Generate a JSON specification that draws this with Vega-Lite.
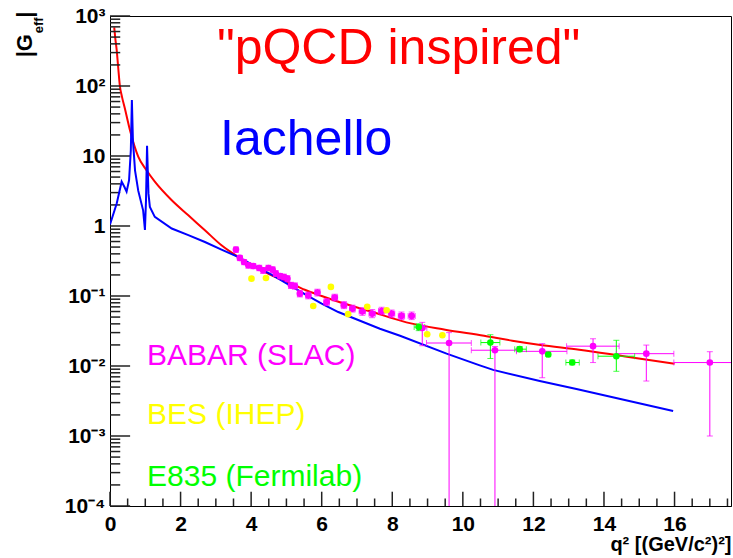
{
  "$schema": "https://vega.github.io/schema/vega-lite/v6.json",
  "width": 621,
  "height": 490,
  "autosize": "none",
  "padding": {"left": 110, "top": 16, "right": 2, "bottom": 52},
  "background": "white",
  "config": {"view": {"stroke": "black", "strokeWidth": 1}, "font": "Liberation Sans"},
  "datasets": {
    "pqcd": [
      {"q2": 0.12, "G": 690}, {"q2": 0.15, "G": 480}, {"q2": 0.19, "G": 326}, {"q2": 0.23, "G": 190}, {"q2": 0.28, "G": 100}, {"q2": 0.34, "G": 70}, {"q2": 0.42, "G": 48},
      {"q2": 0.57, "G": 23}, {"q2": 0.8, "G": 9.8}, {"q2": 1.04, "G": 6.2}, {"q2": 1.27, "G": 4.3},
      {"q2": 1.75, "G": 2.33}, {"q2": 2.22, "G": 1.42}, {"q2": 2.69, "G": 0.87}, {"q2": 3.16, "G": 0.53},
      {"q2": 3.64, "G": 0.36}, {"q2": 4.11, "G": 0.26}, {"q2": 4.58, "G": 0.198}, {"q2": 5.05, "G": 0.158},
      {"q2": 5.52, "G": 0.123}, {"q2": 6.0, "G": 0.1}, {"q2": 6.56, "G": 0.08}, {"q2": 7.4, "G": 0.06},
      {"q2": 8.4, "G": 0.042}, {"q2": 9.5, "G": 0.033}, {"q2": 10.6, "G": 0.027}, {"q2": 11.4, "G": 0.023},
      {"q2": 12.2, "G": 0.02}, {"q2": 13.3, "G": 0.0171}, {"q2": 14.6, "G": 0.0137}, {"q2": 16.0, "G": 0.0108}
    ],
    "iachello": [
      {"q2": 0.0, "G": 1.05}, {"q2": 0.19, "G": 2.1}, {"q2": 0.33, "G": 4.3}, {"q2": 0.41, "G": 3.6},
      {"q2": 0.47, "G": 3.1}, {"q2": 0.54, "G": 4.5}, {"q2": 0.59, "G": 12}, {"q2": 0.62, "G": 63},
      {"q2": 0.65, "G": 16.6}, {"q2": 0.71, "G": 6.2}, {"q2": 0.8, "G": 3.2}, {"q2": 0.94, "G": 1.66},
      {"q2": 0.99, "G": 0.88}, {"q2": 1.02, "G": 2.3}, {"q2": 1.05, "G": 14}, {"q2": 1.09, "G": 2.9},
      {"q2": 1.13, "G": 1.87}, {"q2": 1.27, "G": 1.35}, {"q2": 1.75, "G": 0.92}, {"q2": 2.22, "G": 0.74},
      {"q2": 2.69, "G": 0.59}, {"q2": 3.16, "G": 0.46}, {"q2": 3.64, "G": 0.36}, {"q2": 4.11, "G": 0.268},
      {"q2": 4.58, "G": 0.202}, {"q2": 5.05, "G": 0.147}, {"q2": 5.52, "G": 0.106}, {"q2": 6.0, "G": 0.078},
      {"q2": 6.47, "G": 0.059}, {"q2": 7.65, "G": 0.034}, {"q2": 8.22, "G": 0.027}, {"q2": 9.54, "G": 0.015},
      {"q2": 10.48, "G": 0.0102}, {"q2": 10.86, "G": 0.0088}, {"q2": 12.18, "G": 0.0061}, {"q2": 13.22, "G": 0.0047},
      {"q2": 15.96, "G": 0.00228}
    ],
    "points": [
      {"exp": "BABAR", "q2": 3.57, "G": 0.46, "q2lo": 3.52, "q2hi": 3.62, "Glo": 0.42, "Ghi": 0.5},
      {"exp": "BABAR", "q2": 3.68, "G": 0.35, "q2lo": 3.63, "q2hi": 3.73, "Glo": 0.32, "Ghi": 0.38},
      {"exp": "BABAR", "q2": 3.8, "G": 0.306, "q2lo": 3.75, "q2hi": 3.85, "Glo": 0.28, "Ghi": 0.33},
      {"exp": "BABAR", "q2": 3.92, "G": 0.275, "q2lo": 3.87, "q2hi": 3.97, "Glo": 0.25, "Ghi": 0.3},
      {"exp": "BABAR", "q2": 4.06, "G": 0.268, "q2lo": 4.01, "q2hi": 4.11, "Glo": 0.245, "Ghi": 0.29},
      {"exp": "BABAR", "q2": 4.23, "G": 0.251, "q2lo": 4.18, "q2hi": 4.28, "Glo": 0.23, "Ghi": 0.275},
      {"exp": "BABAR", "q2": 4.34, "G": 0.233, "q2lo": 4.29, "q2hi": 4.39, "Glo": 0.21, "Ghi": 0.255},
      {"exp": "BABAR", "q2": 4.49, "G": 0.251, "q2lo": 4.44, "q2hi": 4.54, "Glo": 0.23, "Ghi": 0.275},
      {"exp": "BABAR", "q2": 4.61, "G": 0.238, "q2lo": 4.56, "q2hi": 4.66, "Glo": 0.215, "Ghi": 0.26},
      {"exp": "BABAR", "q2": 4.7, "G": 0.209, "q2lo": 4.65, "q2hi": 4.75, "Glo": 0.19, "Ghi": 0.23},
      {"exp": "BABAR", "q2": 4.82, "G": 0.193, "q2lo": 4.77, "q2hi": 4.87, "Glo": 0.175, "Ghi": 0.21},
      {"exp": "BABAR", "q2": 4.93, "G": 0.187, "q2lo": 4.88, "q2hi": 4.98, "Glo": 0.17, "Ghi": 0.205},
      {"exp": "BABAR", "q2": 5.03, "G": 0.177, "q2lo": 4.98, "q2hi": 5.08, "Glo": 0.16, "Ghi": 0.195},
      {"exp": "BABAR", "q2": 5.13, "G": 0.142, "q2lo": 5.07, "q2hi": 5.19, "Glo": 0.128, "Ghi": 0.157},
      {"exp": "BABAR", "q2": 5.24, "G": 0.139, "q2lo": 5.18, "q2hi": 5.3, "Glo": 0.125, "Ghi": 0.154},
      {"exp": "BABAR", "q2": 5.38, "G": 0.108, "q2lo": 5.32, "q2hi": 5.44, "Glo": 0.097, "Ghi": 0.12},
      {"exp": "BABAR", "q2": 5.62, "G": 0.102, "q2lo": 5.55, "q2hi": 5.69, "Glo": 0.091, "Ghi": 0.114},
      {"exp": "BABAR", "q2": 5.88, "G": 0.112, "q2lo": 5.81, "q2hi": 5.95, "Glo": 0.1, "Ghi": 0.125},
      {"exp": "BABAR", "q2": 6.14, "G": 0.082, "q2lo": 6.06, "q2hi": 6.22, "Glo": 0.073, "Ghi": 0.092},
      {"exp": "BABAR", "q2": 6.37, "G": 0.095, "q2lo": 6.29, "q2hi": 6.45, "Glo": 0.085, "Ghi": 0.106},
      {"exp": "BABAR", "q2": 6.63, "G": 0.074, "q2lo": 6.55, "q2hi": 6.71, "Glo": 0.066, "Ghi": 0.083},
      {"exp": "BABAR", "q2": 6.87, "G": 0.066, "q2lo": 6.79, "q2hi": 6.95, "Glo": 0.059, "Ghi": 0.074},
      {"exp": "BABAR", "q2": 7.15, "G": 0.06, "q2lo": 7.06, "q2hi": 7.24, "Glo": 0.053, "Ghi": 0.068},
      {"exp": "BABAR", "q2": 7.43, "G": 0.056, "q2lo": 7.34, "q2hi": 7.52, "Glo": 0.049, "Ghi": 0.064},
      {"exp": "BABAR", "q2": 7.7, "G": 0.061, "q2lo": 7.61, "q2hi": 7.79, "Glo": 0.054, "Ghi": 0.069},
      {"exp": "BABAR", "q2": 7.98, "G": 0.056, "q2lo": 7.89, "q2hi": 8.07, "Glo": 0.049, "Ghi": 0.063},
      {"exp": "BABAR", "q2": 8.26, "G": 0.052, "q2lo": 8.17, "q2hi": 8.35, "Glo": 0.046, "Ghi": 0.059},
      {"exp": "BABAR", "q2": 8.55, "G": 0.052, "q2lo": 8.45, "q2hi": 8.65, "Glo": 0.046, "Ghi": 0.059},
      {"exp": "BABAR", "q2": 8.85, "G": 0.035, "q2lo": 8.72, "q2hi": 8.98, "Glo": 0.0195, "Ghi": 0.042},
      {"exp": "BABAR", "q2": 9.61, "G": 0.0213, "q2lo": 8.97, "q2hi": 10.24, "Glo": 0.00001, "Ghi": 0.03},
      {"exp": "BABAR", "q2": 10.91, "G": 0.0168, "q2lo": 10.24, "q2hi": 11.52, "Glo": 0.00001, "Ghi": 0.019},
      {"exp": "BABAR", "q2": 12.25, "G": 0.0162, "q2lo": 11.52, "q2hi": 12.95, "Glo": 0.0068, "Ghi": 0.0209},
      {"exp": "BABAR", "q2": 13.69, "G": 0.0192, "q2lo": 12.94, "q2hi": 14.43, "Glo": 0.0112, "Ghi": 0.0245},
      {"exp": "BABAR", "q2": 15.2, "G": 0.015, "q2lo": 14.35, "q2hi": 15.98, "Glo": 0.0061, "Ghi": 0.0199},
      {"exp": "BABAR", "q2": 17.0, "G": 0.0112, "q2lo": 15.98, "q2hi": 18.5, "Glo": 0.001, "Ghi": 0.016},
      {"exp": "BES", "q2": 4.01, "G": 0.177, "q2lo": 4.01, "q2hi": 4.01, "Glo": 0.177, "Ghi": 0.177},
      {"exp": "BES", "q2": 4.42, "G": 0.181, "q2lo": 4.42, "q2hi": 4.42, "Glo": 0.181, "Ghi": 0.181},
      {"exp": "BES", "q2": 5.76, "G": 0.072, "q2lo": 5.76, "q2hi": 5.76, "Glo": 0.072, "Ghi": 0.072},
      {"exp": "BES", "q2": 6.26, "G": 0.135, "q2lo": 6.26, "q2hi": 6.26, "Glo": 0.135, "Ghi": 0.135},
      {"exp": "BES", "q2": 6.75, "G": 0.055, "q2lo": 6.75, "q2hi": 6.75, "Glo": 0.055, "Ghi": 0.055},
      {"exp": "BES", "q2": 7.29, "G": 0.07, "q2lo": 7.29, "q2hi": 7.29, "Glo": 0.07, "Ghi": 0.07},
      {"exp": "BES", "q2": 7.84, "G": 0.0625, "q2lo": 7.84, "q2hi": 7.84, "Glo": 0.0625, "Ghi": 0.0625},
      {"exp": "BES", "q2": 8.99, "G": 0.0284, "q2lo": 8.99, "q2hi": 8.99, "Glo": 0.0284, "Ghi": 0.0284},
      {"exp": "BES", "q2": 9.42, "G": 0.0275, "q2lo": 9.42, "q2hi": 9.42, "Glo": 0.0275, "Ghi": 0.0275},
      {"exp": "E835", "q2": 8.75, "G": 0.036, "q2lo": 8.62, "q2hi": 8.92, "Glo": 0.032, "Ghi": 0.04},
      {"exp": "E835", "q2": 10.78, "G": 0.0216, "q2lo": 10.51, "q2hi": 11.05, "Glo": 0.0128, "Ghi": 0.028},
      {"exp": "E835", "q2": 11.61, "G": 0.0174, "q2lo": 11.47, "q2hi": 11.8, "Glo": 0.016, "Ghi": 0.019},
      {"exp": "E835", "q2": 12.42, "G": 0.0146, "q2lo": 12.37, "q2hi": 12.47, "Glo": 0.0138, "Ghi": 0.0155},
      {"exp": "E835", "q2": 13.1, "G": 0.0112, "q2lo": 12.92, "q2hi": 13.3, "Glo": 0.0104, "Ghi": 0.0122},
      {"exp": "E835", "q2": 14.35, "G": 0.0138, "q2lo": 13.83, "q2hi": 14.87, "Glo": 0.0084, "Ghi": 0.0233}
    ],
    "yticks": [
      {"G": 0.0001, "kind": "major"}, {"G": 0.0002, "kind": "minor"}, {"G": 0.0003, "kind": "minor"}, {"G": 0.0004, "kind": "minor"}, {"G": 0.0005, "kind": "minor"}, {"G": 0.0006, "kind": "minor"}, {"G": 0.0007, "kind": "minor"}, {"G": 0.0008, "kind": "minor"}, {"G": 0.0009, "kind": "minor"},
      {"G": 0.001, "kind": "major"}, {"G": 0.002, "kind": "minor"}, {"G": 0.003, "kind": "minor"}, {"G": 0.004, "kind": "minor"}, {"G": 0.005, "kind": "minor"}, {"G": 0.006, "kind": "minor"}, {"G": 0.007, "kind": "minor"}, {"G": 0.008, "kind": "minor"}, {"G": 0.009, "kind": "minor"},
      {"G": 0.01, "kind": "major"}, {"G": 0.02, "kind": "minor"}, {"G": 0.03, "kind": "minor"}, {"G": 0.04, "kind": "minor"}, {"G": 0.05, "kind": "minor"}, {"G": 0.06, "kind": "minor"}, {"G": 0.07, "kind": "minor"}, {"G": 0.08, "kind": "minor"}, {"G": 0.09, "kind": "minor"},
      {"G": 0.1, "kind": "major"}, {"G": 0.2, "kind": "minor"}, {"G": 0.3, "kind": "minor"}, {"G": 0.4, "kind": "minor"}, {"G": 0.5, "kind": "minor"}, {"G": 0.6, "kind": "minor"}, {"G": 0.7, "kind": "minor"}, {"G": 0.8, "kind": "minor"}, {"G": 0.9, "kind": "minor"},
      {"G": 1, "kind": "major"}, {"G": 2, "kind": "minor"}, {"G": 3, "kind": "minor"}, {"G": 4, "kind": "minor"}, {"G": 5, "kind": "minor"}, {"G": 6, "kind": "minor"}, {"G": 7, "kind": "minor"}, {"G": 8, "kind": "minor"}, {"G": 9, "kind": "minor"},
      {"G": 10, "kind": "major"}, {"G": 20, "kind": "minor"}, {"G": 30, "kind": "minor"}, {"G": 40, "kind": "minor"}, {"G": 50, "kind": "minor"}, {"G": 60, "kind": "minor"}, {"G": 70, "kind": "minor"}, {"G": 80, "kind": "minor"}, {"G": 90, "kind": "minor"},
      {"G": 100, "kind": "major"}, {"G": 200, "kind": "minor"}, {"G": 300, "kind": "minor"}, {"G": 400, "kind": "minor"}, {"G": 500, "kind": "minor"}, {"G": 600, "kind": "minor"}, {"G": 700, "kind": "minor"}, {"G": 800, "kind": "minor"}, {"G": 900, "kind": "minor"},
      {"G": 1000, "kind": "major"}
    ],
    "xticks": [
      {"q2": 0, "kind": "major"}, {"q2": 0.5, "kind": "minor"}, {"q2": 1, "kind": "minor"}, {"q2": 1.5, "kind": "minor"},
      {"q2": 2, "kind": "major"}, {"q2": 2.5, "kind": "minor"}, {"q2": 3, "kind": "minor"}, {"q2": 3.5, "kind": "minor"},
      {"q2": 4, "kind": "major"}, {"q2": 4.5, "kind": "minor"}, {"q2": 5, "kind": "minor"}, {"q2": 5.5, "kind": "minor"},
      {"q2": 6, "kind": "major"}, {"q2": 6.5, "kind": "minor"}, {"q2": 7, "kind": "minor"}, {"q2": 7.5, "kind": "minor"},
      {"q2": 8, "kind": "major"}, {"q2": 8.5, "kind": "minor"}, {"q2": 9, "kind": "minor"}, {"q2": 9.5, "kind": "minor"},
      {"q2": 10, "kind": "major"}, {"q2": 10.5, "kind": "minor"}, {"q2": 11, "kind": "minor"}, {"q2": 11.5, "kind": "minor"},
      {"q2": 12, "kind": "major"}, {"q2": 12.5, "kind": "minor"}, {"q2": 13, "kind": "minor"}, {"q2": 13.5, "kind": "minor"},
      {"q2": 14, "kind": "major"}, {"q2": 14.5, "kind": "minor"}, {"q2": 15, "kind": "minor"}, {"q2": 15.5, "kind": "minor"},
      {"q2": 16, "kind": "major"}, {"q2": 16.5, "kind": "minor"}, {"q2": 17, "kind": "minor"}, {"q2": 17.5, "kind": "minor"}
    ],
    "one": [{}]
  },
  "layer": [
    {
      "data": {"name": "pqcd"},
      "mark": {"type": "line", "color": "#ff0000", "strokeWidth": 2, "clip": true, "interpolate": "monotone"},
      "encoding": {
        "x": {
          "field": "q2", "type": "quantitative",
          "scale": {"domain": [0, 17.6], "nice": false, "zero": false},
          "axis": {
            "title": "q² [(GeV/c²)²]",
            "titleAnchor": "end",
            "titleFont": "Liberation Sans", "titleFontWeight": "bold", "titleFontSize": 20, "titleColor": "black",
            "titlePadding": 0,
            "values": [0, 2, 4, 6, 8, 10, 12, 14, 16],
            "ticks": false,
            "tickSize": 0,
            "labelPadding": 7,
            "labelFlush": false, "labelOverlap": false,
            "labelFont": "Liberation Sans", "labelFontWeight": "bold", "labelFontSize": 21, "labelColor": "black",
            "domainColor": "black", "grid": false
          }
        },
        "y": {
          "field": "G", "type": "quantitative",
          "scale": {"type": "log", "domain": [0.0001, 1000], "nice": false},
          "axis": {
            "title": null,
            "values": [0.0001, 0.001, 0.01, 0.1, 1, 10, 100, 1000],
            "labelExpr": "round(log(datum.value)/LN10) == 3 ? '10³' : round(log(datum.value)/LN10) == 2 ? '10²' : round(log(datum.value)/LN10) == 1 ? '10' : round(log(datum.value)/LN10) == 0 ? '1' : round(log(datum.value)/LN10) == -1 ? '10⁻¹' : round(log(datum.value)/LN10) == -2 ? '10⁻²' : round(log(datum.value)/LN10) == -3 ? '10⁻³' : '10⁻⁴'",
            "ticks": false,
            "tickSize": 0,
            "labelPadding": 5,
            "labelOverlap": false,
            "labelFont": "Liberation Sans", "labelFontWeight": "bold", "labelFontSize": 21, "labelColor": "black",
            "domainColor": "black", "grid": false
          }
        }
      }
    },
    {
      "data": {"name": "yticks"},
      "transform": [{"filter": "datum.kind == 'major'"}],
      "mark": {"type": "rule", "strokeWidth": 1.5, "color": "#222222"},
      "encoding": {"x": {"datum": 0, "type": "quantitative"}, "x2": {"datum": 0.57}, "y": {"field": "G", "type": "quantitative"}}
    },
    {
      "data": {"name": "yticks"},
      "transform": [{"filter": "datum.kind == 'minor'"}],
      "mark": {"type": "rule", "strokeWidth": 1.5, "color": "#222222"},
      "encoding": {"x": {"datum": 0, "type": "quantitative"}, "x2": {"datum": 0.29}, "y": {"field": "G", "type": "quantitative"}}
    },
    {
      "data": {"name": "xticks"},
      "transform": [{"filter": "datum.kind == 'major'"}],
      "mark": {"type": "rule", "strokeWidth": 1.5, "color": "#222222"},
      "encoding": {"x": {"field": "q2", "type": "quantitative"}, "y": {"datum": 0.0001, "type": "quantitative"}, "y2": {"datum": 0.00016}}
    },
    {
      "data": {"name": "xticks"},
      "transform": [{"filter": "datum.kind == 'minor'"}],
      "mark": {"type": "rule", "strokeWidth": 1.5, "color": "#222222"},
      "encoding": {"x": {"field": "q2", "type": "quantitative"}, "y": {"datum": 0.0001, "type": "quantitative"}, "y2": {"datum": 0.000128}}
    },
    {
      "data": {"name": "iachello"},
      "mark": {"type": "line", "color": "#0000ff", "strokeWidth": 2, "clip": true},
      "encoding": {
        "x": {"field": "q2", "type": "quantitative"},
        "y": {"field": "G", "type": "quantitative"}
      }
    },
    {
      "data": {"name": "points"},
      "transform": [{"filter": "datum.exp != 'BES'"}],
      "mark": {"type": "rule", "strokeWidth": 1, "clip": true},
      "encoding": {
        "x": {"field": "q2lo", "type": "quantitative"},
        "x2": {"field": "q2hi"},
        "y": {"field": "G", "type": "quantitative"},
        "color": {"field": "exp", "type": "nominal", "scale": {"domain": ["BABAR", "BES", "E835"], "range": ["#ff00ff", "#ffff00", "#00ff00"]}, "legend": null}
      }
    },
    {
      "data": {"name": "points"},
      "transform": [{"filter": "datum.exp != 'BES'"}],
      "mark": {"type": "rule", "strokeWidth": 1, "clip": true},
      "encoding": {
        "x": {"field": "q2", "type": "quantitative"},
        "y": {"field": "Glo", "type": "quantitative"},
        "y2": {"field": "Ghi"},
        "color": {"field": "exp", "type": "nominal", "legend": null}
      }
    },
    {
      "data": {"name": "points"},
      "transform": [{"filter": "datum.exp != 'BES'"}, {"fold": ["q2lo", "q2hi"], "as": ["end", "xend"]}],
      "mark": {"type": "tick", "orient": "vertical", "size": 6, "thickness": 1, "clip": true},
      "encoding": {
        "x": {"field": "xend", "type": "quantitative"},
        "y": {"field": "G", "type": "quantitative"},
        "color": {"field": "exp", "type": "nominal", "legend": null}
      }
    },
    {
      "data": {"name": "points"},
      "transform": [{"filter": "datum.exp != 'BES'"}, {"fold": ["Glo", "Ghi"], "as": ["end", "yend"]}],
      "mark": {"type": "tick", "orient": "horizontal", "size": 6, "thickness": 1, "clip": true},
      "encoding": {
        "x": {"field": "q2", "type": "quantitative"},
        "y": {"field": "yend", "type": "quantitative"},
        "color": {"field": "exp", "type": "nominal", "legend": null}
      }
    },
    {
      "data": {"name": "points"},
      "mark": {"type": "point", "shape": "circle", "filled": true, "size": 44, "opacity": 1},
      "encoding": {
        "x": {"field": "q2", "type": "quantitative"},
        "y": {"field": "G", "type": "quantitative"},
        "color": {"field": "exp", "type": "nominal", "legend": null}
      }
    },
    {
      "data": {"name": "one"},
      "mark": {"type": "text", "align": "left", "baseline": "alphabetic", "font": "Liberation Sans", "fontSize": 50, "color": "#ff0000"},
      "encoding": {"x": {"datum": 3.03, "type": "quantitative"}, "y": {"datum": 209, "type": "quantitative"}, "text": {"value": "\"pQCD inspired\""}}
    },
    {
      "data": {"name": "one"},
      "mark": {"type": "text", "align": "left", "baseline": "alphabetic", "font": "Liberation Sans", "fontSize": 50, "color": "#0000ff"},
      "encoding": {"x": {"datum": 3.12, "type": "quantitative"}, "y": {"datum": 10.2, "type": "quantitative"}, "text": {"value": "Iachello"}}
    },
    {
      "data": {"name": "one"},
      "mark": {"type": "text", "align": "left", "baseline": "alphabetic", "font": "Liberation Sans", "fontSize": 30, "color": "#ff00ff"},
      "encoding": {"x": {"datum": 1.05, "type": "quantitative"}, "y": {"datum": 0.0102, "type": "quantitative"}, "text": {"value": "BABAR (SLAC)"}}
    },
    {
      "data": {"name": "one"},
      "mark": {"type": "text", "align": "left", "baseline": "alphabetic", "font": "Liberation Sans", "fontSize": 30, "color": "#ffff00"},
      "encoding": {"x": {"datum": 1.05, "type": "quantitative"}, "y": {"datum": 0.0015, "type": "quantitative"}, "text": {"value": "BES (IHEP)"}}
    },
    {
      "data": {"name": "one"},
      "mark": {"type": "text", "align": "left", "baseline": "alphabetic", "font": "Liberation Sans", "fontSize": 30, "color": "#00ff00"},
      "encoding": {"x": {"datum": 1.05, "type": "quantitative"}, "y": {"datum": 0.00019, "type": "quantitative"}, "text": {"value": "E835 (Fermilab)"}}
    },
    {
      "data": {"name": "one"},
      "mark": {"type": "text", "align": "left", "baseline": "alphabetic", "angle": 270, "font": "Liberation Sans", "fontWeight": "bold", "fontSize": 22, "color": "black"},
      "encoding": {"x": {"datum": -2.21, "type": "quantitative"}, "y": {"datum": 257, "type": "quantitative"}, "text": {"value": "|G"}}
    },
    {
      "data": {"name": "one"},
      "mark": {"type": "text", "align": "left", "baseline": "alphabetic", "angle": 270, "font": "Liberation Sans", "fontWeight": "bold", "fontSize": 13, "color": "black"},
      "encoding": {"x": {"datum": -1.9, "type": "quantitative"}, "y": {"datum": 566, "type": "quantitative"}, "text": {"value": "eff"}}
    },
    {
      "data": {"name": "one"},
      "mark": {"type": "text", "align": "left", "baseline": "alphabetic", "angle": 270, "font": "Liberation Sans", "fontWeight": "bold", "fontSize": 22, "color": "black"},
      "encoding": {"x": {"datum": -2.21, "type": "quantitative"}, "y": {"datum": 943, "type": "quantitative"}, "text": {"value": "|"}}
    }
  ]
}
